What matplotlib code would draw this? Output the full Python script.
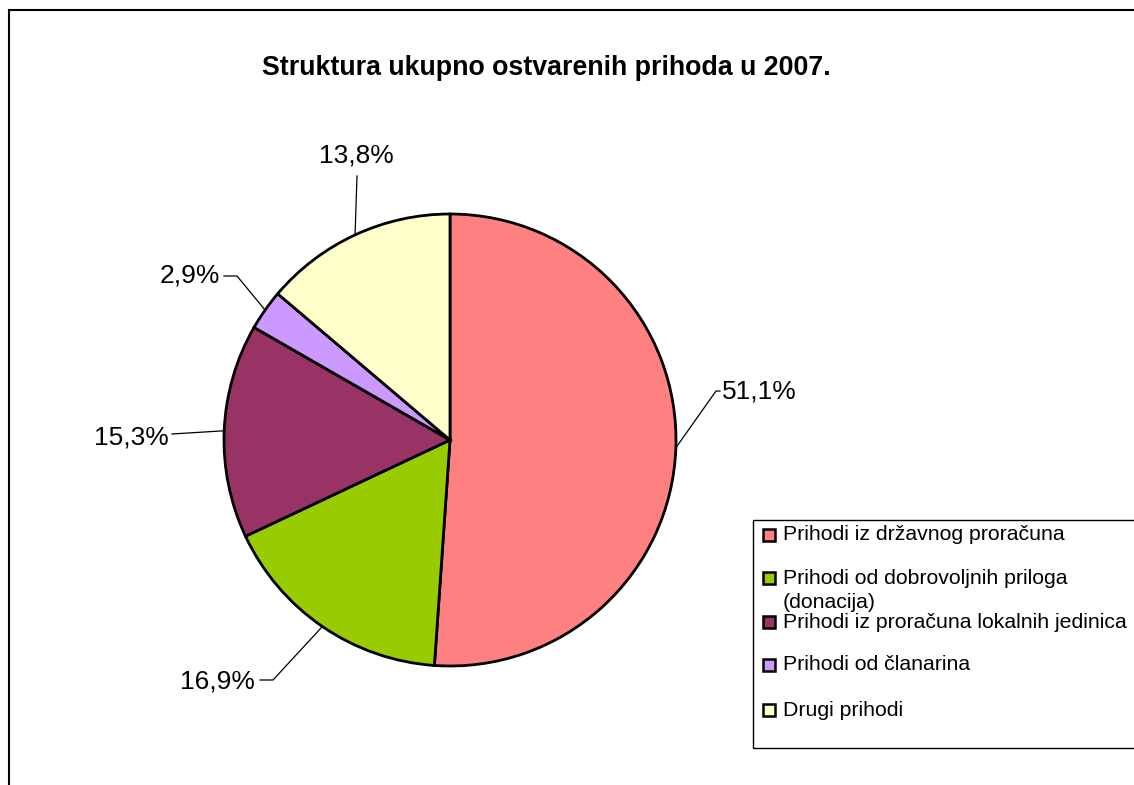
import matplotlib
matplotlib.use("Agg")
import matplotlib.pyplot as plt
from matplotlib.patches import Rectangle
import numpy as np

plt.rcParams['font.family'] = ['Liberation Sans', 'DejaVu Sans']

title = "Struktura ukupno ostvarenih prihoda u 2007."
categories = ["Prihodi iz državnog proračuna",
              "Prihodi od dobrovoljnih priloga\n(donacija)",
              "Prihodi iz proračuna lokalnih jedinica",
              "Prihodi od članarina",
              "Drugi prihodi"]
values = [51.1, 16.9, 15.3, 2.9, 13.8]
labels = ["51,1%", "16,9%", "15,3%", "2,9%", "13,8%"]
colors = ["#FF8080", "#99CC00", "#993366", "#CC99FF", "#FFFFCC"]

W, H = 1134, 785
fig = plt.figure(figsize=(W / 100, H / 100), dpi=100)
ax = fig.add_axes([0, 0, 1, 1])
ax.set_xlim(0, W)
ax.set_ylim(0, H)
ax.set_aspect('equal')
ax.axis('off')

def Y(py):
    return H - py

cx, cy, R = 450, 440, 226
wedges, _ = ax.pie(values, colors=colors, startangle=90, counterclock=False,
                   center=(cx, Y(cy)), radius=R,
                   wedgeprops=dict(edgecolor='black', linewidth=2))
ax.set_xlim(0, W)
ax.set_ylim(0, H)

# label placement (text anchor, elbow points)
lab_style = [
    dict(tx=722, ty=391, ha='left', pts=[(716, 391), (720, 391)]),
    dict(tx=255, ty=682, ha='right', pts=[(273, 680), (260, 680)]),
    dict(tx=169, ty=437, ha='right', pts=[(172, 434)]),
    dict(tx=220, ty=276, ha='right', pts=[(237, 276), (224, 276)]),
    dict(tx=356, ty=155, ha='center', pts=[(357, 176)]),
]
for w, lab, st in zip(wedges, labels, lab_style):
    ang = np.deg2rad((w.theta1 + w.theta2) / 2)
    x0 = cx + R * np.cos(ang)
    y0 = Y(cy) + R * np.sin(ang)
    xs = [x0] + [p[0] for p in st['pts']]
    ys = [y0] + [Y(p[1]) for p in st['pts']]
    ax.plot(xs, ys, color='black', lw=0.9)
    ax.text(st['tx'], Y(st['ty']), lab, ha=st['ha'], va='center', fontsize=19)

ax.text(546, Y(68), title, ha='center', va='center', fontsize=19.3, fontweight='bold')

# outer chart border
ax.add_patch(Rectangle((9, Y(790)), 1140, 780, fill=False, edgecolor='black', lw=1.5, clip_on=False))

# legend
ax.add_patch(Rectangle((753, Y(748)), 400, 228, fill=False, edgecolor='black', lw=1.0))
leg_y = [535, 578, 622, 665, 710]
for yy, cat, col in zip(leg_y, categories, colors):
    ax.add_patch(Rectangle((763, Y(yy) - 6), 12, 12, facecolor=col, edgecolor='black', lw=1.8))
    for i, line in enumerate(cat.split('\n')):
        ax.text(783, Y(yy + 25 * i), line, ha='left', va='center', fontsize=15.3)

fig.savefig("out.png", dpi=100)
